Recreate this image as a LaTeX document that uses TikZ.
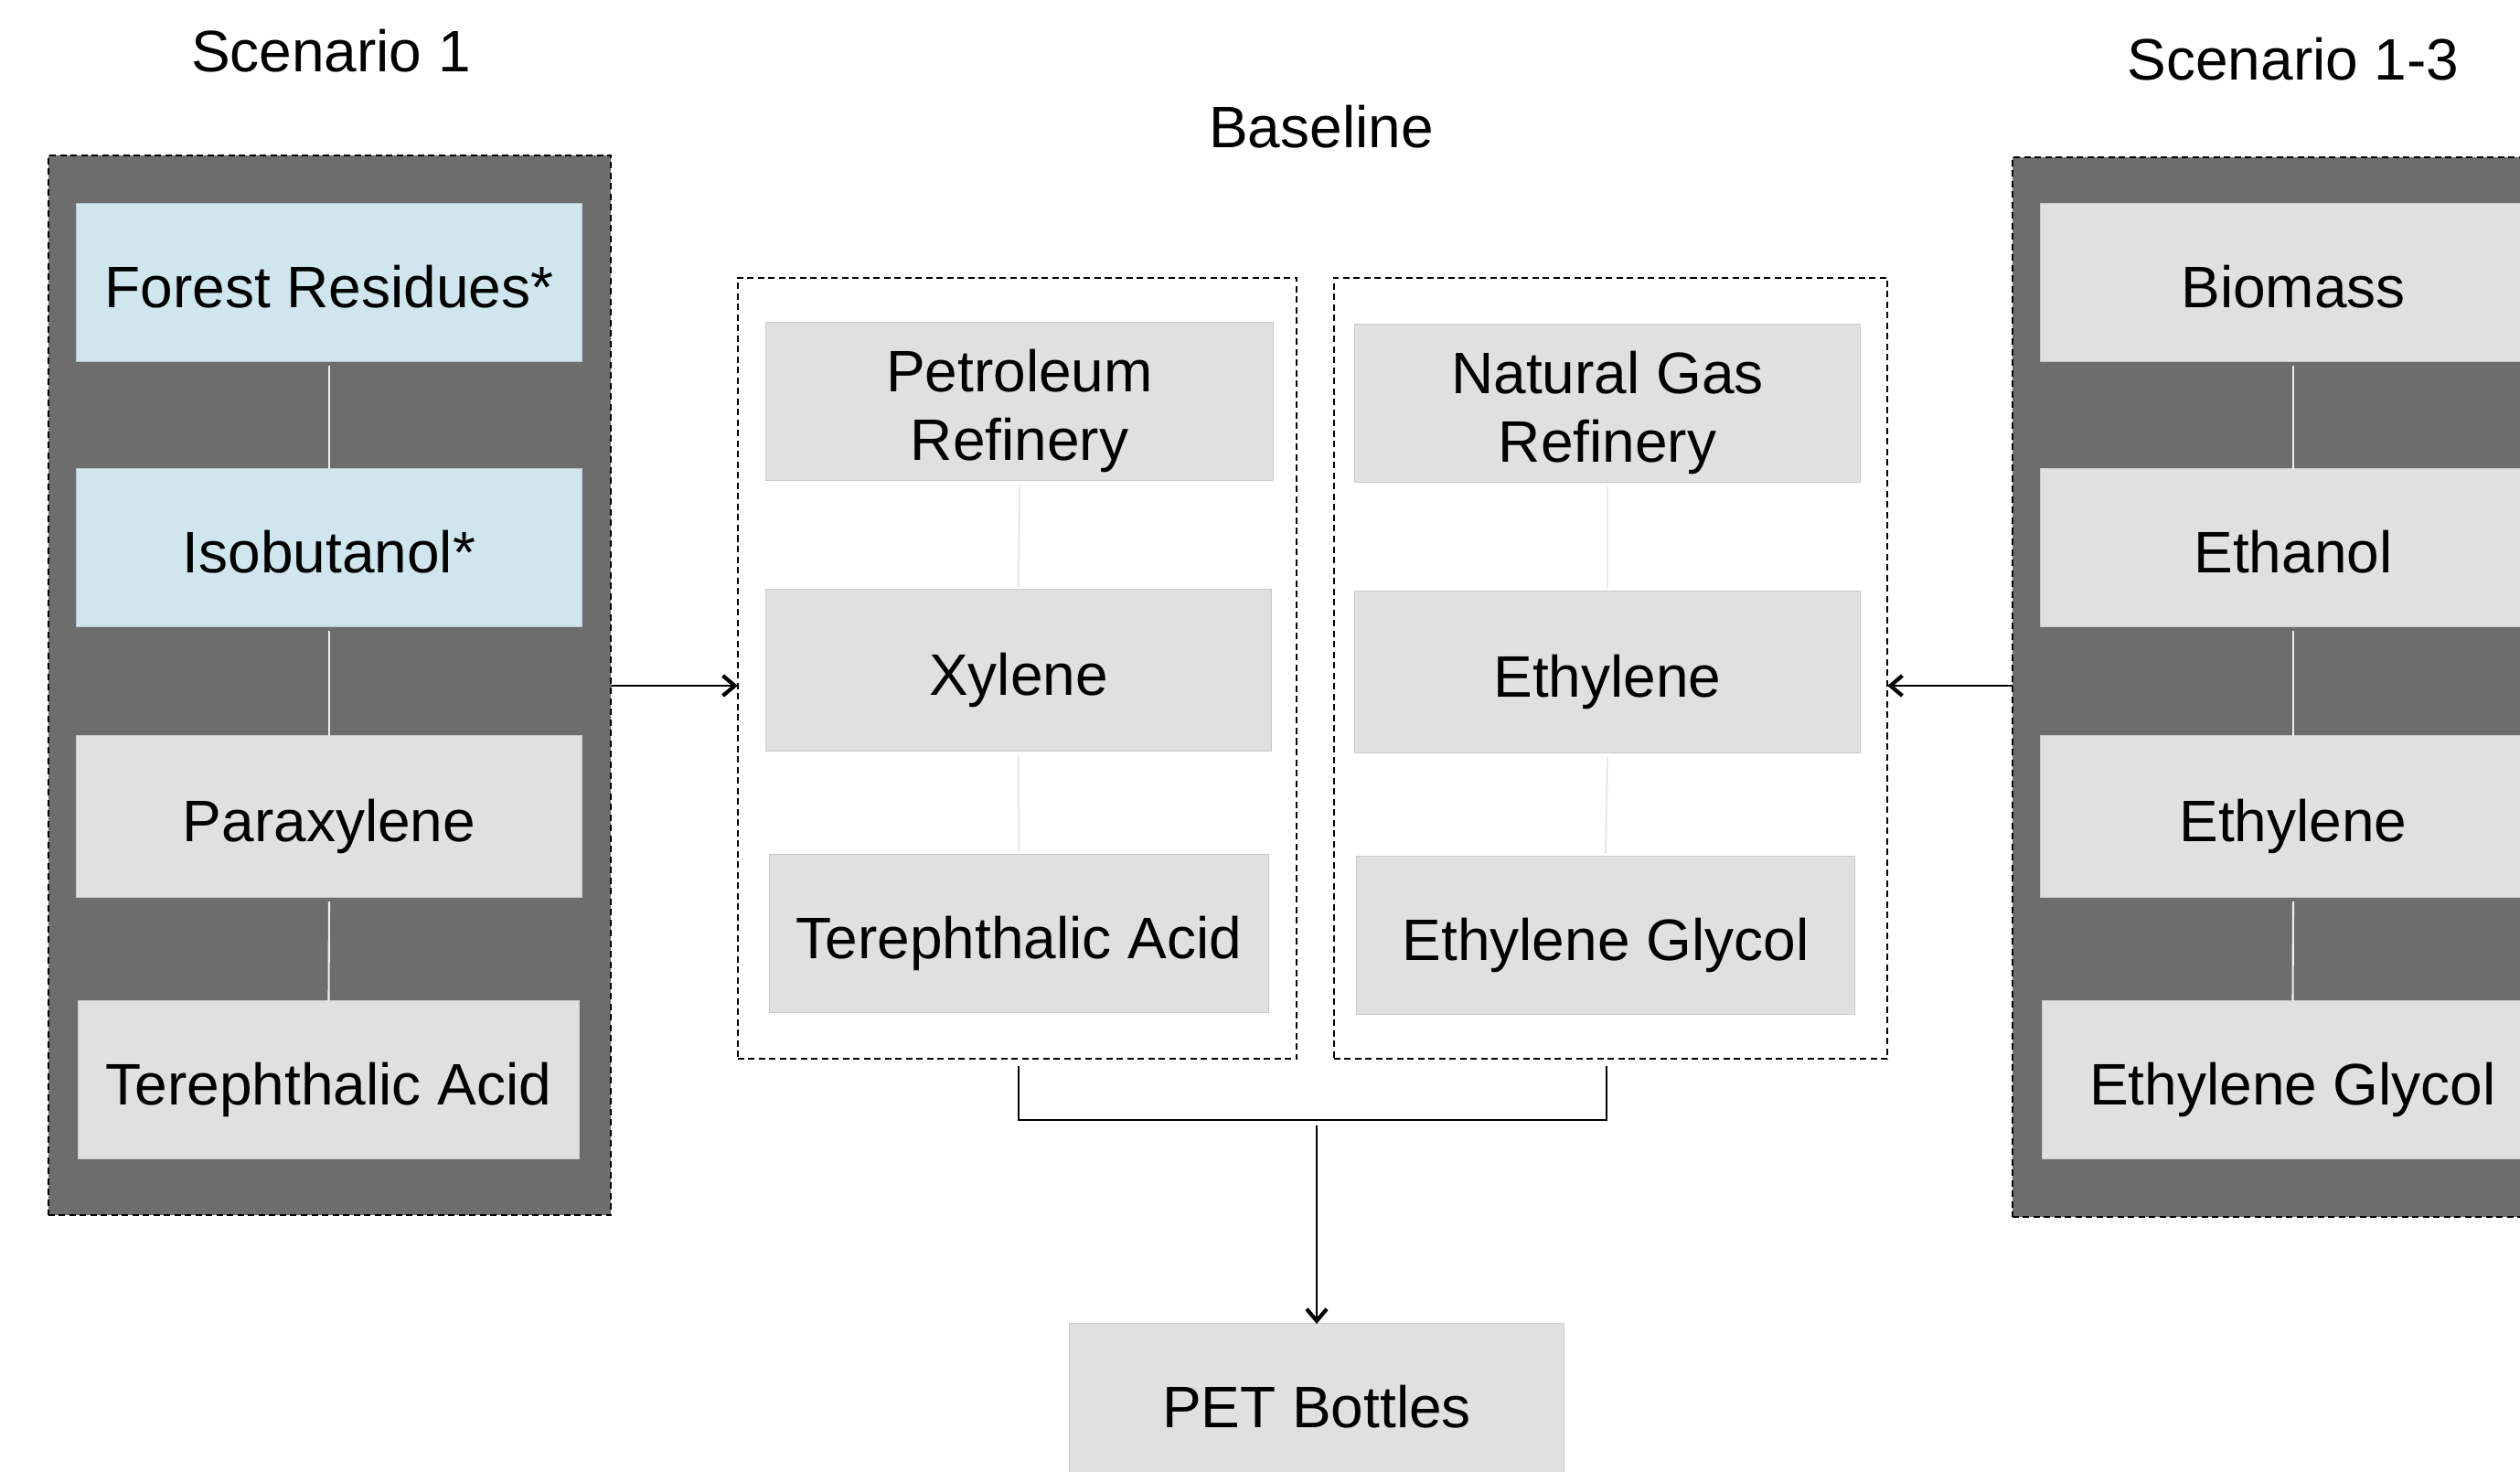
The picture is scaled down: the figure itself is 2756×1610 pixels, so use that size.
\documentclass[tikz,border=0pt]{standalone}
\usepackage{fontspec}
\setmainfont{Liberation Sans}
\usetikzlibrary{arrows.meta}
\definecolor{darkbg}{HTML}{6D6D6D}
\definecolor{lightbox}{HTML}{E0E0E0}
\definecolor{bluebox}{HTML}{CFE6EE}
\definecolor{boxedge}{HTML}{CACACA}
\definecolor{blueedge}{HTML}{B4C6CD}
\newcommand{\firststrut}{\rule{0pt}{19.3pt}}
\begin{document}
\begin{tikzpicture}[x=0.01cm,y=-0.01cm,
  font=\fontsize{18.2}{21.4}\selectfont,
  boxbase/.style={draw=boxedge, line width=0.3pt, fill=lightbox, minimum width=5.52cm,
    minimum height=1.72cm, inner sep=0pt, outer sep=0pt, align=center},
  procbox/.style={boxbase, text height=16.9pt, text depth=1.3pt},
  twoline/.style={boxbase},
  bluebx/.style={procbox, fill=bluebox, draw=blueedge},
  groupbox/.style={draw=black, dash pattern=on 0.07cm off 0.045cm, line width=0.6pt,
    inner sep=0pt, outer sep=0pt},
  darkgroup/.style={groupbox, fill=darkbg},
  innerlink/.style={draw=white!88!gray, line width=0.6pt},
  lightlink/.style={draw=gray!18, line width=0.6pt},
  joinline/.style={draw=black, line width=0.6pt},
  flow/.style={draw=black, line width=0.6pt, -{Straight Barb[length=0.13cm,width=0.22cm,line width=1.2pt]}}
]
\useasboundingbox (0,0) rectangle (2756,1610);

% group frames
\node[darkgroup, minimum width=6.15cm, minimum height=11.59cm] (g1) at (360.5,749.5) {};
\node[groupbox, minimum width=6.11cm, minimum height=8.54cm] (g2) at (1112.5,731) {};
\node[groupbox, minimum width=6.05cm, minimum height=8.54cm] (g3) at (1761.5,731) {};
\node[darkgroup, minimum width=6.15cm, minimum height=11.59cm] (g4) at (2508.5,751.5) {};

% titles
\node (t1) at (362,56) {Scenario 1};
\node (t2) at (1445,139) {Baseline};
\node (t3) at (2508,65) {Scenario 1-3};

% scenario 1 column
\node[bluebx] (a1) at (360,309) {Forest Residues*};
\node[bluebx] (a2) at (360,599) {Isobutanol*};
\node[procbox, minimum height=1.76cm] (a3) at (360,893) {Paraxylene};
\node[procbox, minimum width=5.47cm] (a4) at (359.5,1181) {Terephthalic Acid};

% baseline petroleum column
\node[twoline, minimum width=5.54cm] (b1) at (1115,439) {\firststrut Petroleum\\Refinery};
\node[procbox, minimum height=1.76cm] (b2) at (1114,733) {Xylene};
\node[procbox, minimum width=5.45cm] (b3) at (1114.5,1021) {Terephthalic Acid};

% baseline natural gas column
\node[twoline] (c1) at (1758,441) {\firststrut Natural Gas\\Refinery};
\node[procbox, minimum height=1.76cm] (c2) at (1758,735) {Ethylene};
\node[procbox, minimum width=5.44cm] (c3) at (1756,1023) {Ethylene Glycol};

% scenario 1-3 column
\node[procbox] (d1) at (2508,309) {Biomass};
\node[procbox] (d2) at (2508,599) {Ethanol};
\node[procbox, minimum height=1.76cm] (d3) at (2508,893) {Ethylene};
\node[procbox, minimum width=5.47cm] (d4) at (2507.5,1181) {Ethylene Glycol};

% PET
\node[procbox, minimum width=5.41cm] (pet) at (1440,1534) {PET Bottles};

% links inside dark groups
\draw[innerlink] ([yshift=-0.05cm]a1.south) -- (a2.north);
\draw[innerlink] ([yshift=-0.05cm]a2.south) -- (a3.north);
\draw[innerlink] ([yshift=-0.05cm]a3.south) -- (a4.north);
\draw[innerlink] ([yshift=-0.05cm]d1.south) -- (d2.north);
\draw[innerlink] ([yshift=-0.05cm]d2.south) -- (d3.north);
\draw[innerlink] ([yshift=-0.05cm]d3.south) -- (d4.north);

% links inside baseline groups
\draw[lightlink] ([yshift=-0.05cm]b1.south) -- ([yshift=0.03cm]b2.north);
\draw[lightlink] ([yshift=-0.05cm]b2.south) -- ([yshift=0.03cm]b3.north);
\draw[lightlink] ([yshift=-0.05cm]c1.south) -- ([yshift=0.03cm]c2.north);
\draw[lightlink] ([yshift=-0.05cm]c2.south) -- ([yshift=0.03cm]c3.north);

% side arrows
\draw[flow] (g1.east |- 0,750) -- (g2.west |- 0,750);
\draw[flow] (g4.west |- 0,750) -- (g3.east |- 0,750);

% join to PET
\coordinate (jl) at (1114,1225);
\coordinate (jr) at (1757,1225);
\coordinate (jm) at (1440,1231);
\draw[joinline] ([yshift=-0.08cm]g2.south -| jl) -- (jl) -- (jr) -- ([yshift=-0.08cm]g3.south -| jr);
\draw[flow] (jm) -- (pet.north);
\end{tikzpicture}
\end{document}
